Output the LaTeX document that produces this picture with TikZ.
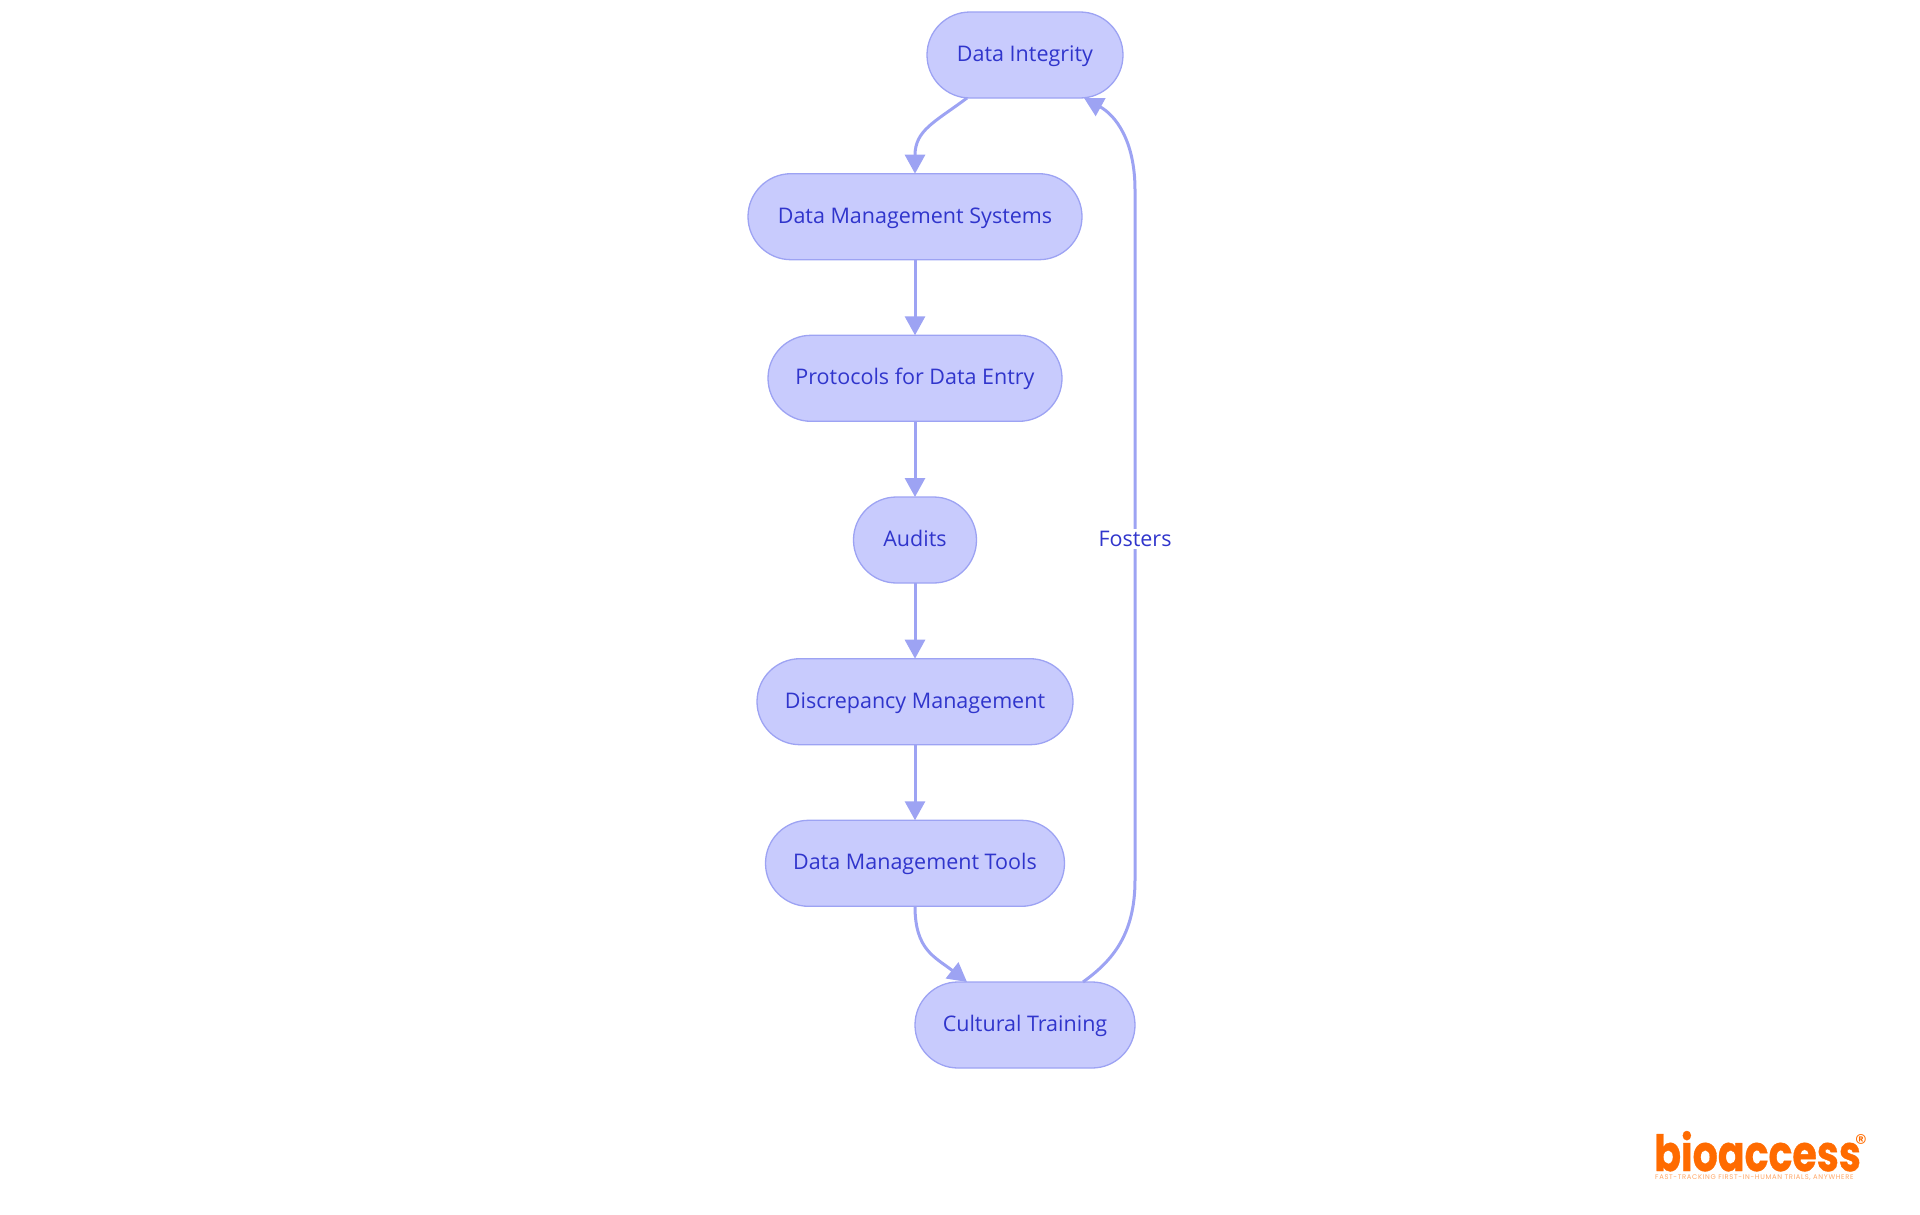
\documentclass[tikz,border=0pt]{standalone}
\usepackage{fontspec}
\setmainfont{Open Sans}
\newfontfamily\logofont[BoldFeatures={FakeBold=0.8}]{Poppins}
\newfontfamily\tagfont[LetterSpace=9.5]{Poppins}
\usetikzlibrary{arrows.meta,calc,shapes.misc}
\definecolor{nodefill}{HTML}{C8CBFD}
\definecolor{nodeline}{HTML}{9DA3F3}
\definecolor{nodetext}{HTML}{3035CC}
\definecolor{logoor}{HTML}{FF6B00}
\tikzset{
  pill/.style={rounded rectangle,draw=nodeline,fill=nodefill,line width=1.3pt,minimum height=86pt,inner sep=0pt,outer sep=0pt,text height=16pt,text depth=3pt,text=nodetext,font=\fontsize{21.5}{26}\selectfont},
  link/.style={draw=nodeline,line width=3pt,-{Triangle[length=19pt,width=20pt]}},
  plain/.style={draw=nodeline,line width=3pt}
}
\begin{document}
\begin{tikzpicture}[x=1pt,y=-1pt]
\useasboundingbox (0,0) rectangle (1920,1215);
\node[pill,minimum width=196pt] (n1) at (1025,55) {Data Integrity};
\node[pill,minimum width=334pt] (n2) at (915,216.7) {Data Management Systems};
\node[pill,minimum width=294pt] (n3) at (915,378.3) {Protocols for Data Entry};
\node[pill,minimum width=123pt] (n4) at (915,540) {Audits};
\node[pill,minimum width=316pt] (n5) at (915,701.7) {Discrepancy Management};
\node[pill,minimum width=299pt] (n6) at (915,863.3) {Data Management Tools};
\node[pill,minimum width=220pt] (n7) at (1025,1025) {Cultural Training};
\draw[link] ($(n1.south)+(-58,0)$) .. controls (935,122) and (915,130) .. (n2.north);
\draw[link] (n2.south) -- (n3.north);
\draw[link] (n3.south) -- (n4.north);
\draw[link] (n4.south) -- (n5.north);
\draw[link] (n5.south) -- (n6.north);
\draw[link] (n6.south) .. controls (915,950) and (935,957) .. ($(n7.north)+(-58,0)$);
\coordinate (turnB) at (1135,880);
\coordinate (turnT) at (1135,190);
\draw[plain] ($(n7.north)+(58,0)$) .. controls (1112,961) and (1135,935) .. (turnB) -- (turnT);
\draw[link] (turnT) .. controls (1135,140) and (1115,115) .. ($(n1.south)+(59,0)$);
\node[fill=white,inner xsep=0pt,inner ysep=2pt,text=nodetext,font=\fontsize{21.5}{26}\selectfont] (lab) at (1135,539) {Fosters};
\node[text=logoor,inner sep=0pt,anchor=base west] (logo) at (1654,1171) {\scalebox{.79}[1]{\logofont\bfseries\fontsize{50}{60}\selectfont bioaccess}};
\node[text=logoor,inner sep=0pt,font=\logofont\fontsize{24}{24}\selectfont] (reg) at (1861,1143) {®};
\node[text=logoor!60,inner sep=0pt,font=\tagfont\fontsize{6.8}{8}\selectfont,anchor=west] (tag) at (1655,1178) {FAST-TRACKING FIRST-IN-HUMAN TRIALS, ANYWHERE};
\end{tikzpicture}
\end{document}
